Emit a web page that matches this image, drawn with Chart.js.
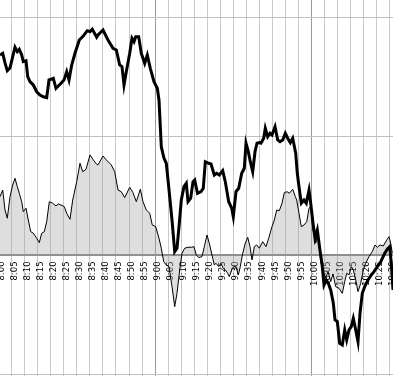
<!DOCTYPE html>
<html>
<head>
<meta charset="utf-8">
<script src="https://cdn.jsdelivr.net/npm/chart.js@4.4.1/dist/chart.umd.min.js"></script>
<style>
  html, body { margin: 0; padding: 0; background: #fff; }
  #wrap { width: 393px; height: 376px; }
</style>
</head>
<body>
<div id="wrap"><canvas id="chart1"></canvas></div>
<script>
// minutes after 8:00 and values (grid step = 100)
const priceMinutes = [
  0.5, 1.54, 2.42, 3.3, 4.34, 5.37, 6.25, 7.14, 7.9, 8.83,
  9.44, 10.48, 11.13, 12.01, 13.28, 14.58, 15.85, 17.11, 18.42, 19.3,
  20.34, 20.95, 21.99, 22.87, 23.91, 25.06, 26.09, 26.98, 28.01, 29.28,
  30.93, 32.46, 34.0, 35.03, 35.92, 37.6, 38.11, 40.03, 41.94, 43.86,
  45.13, 46.43, 47.31, 48.08, 48.96, 50.27, 51.15, 51.92, 52.57, 53.72,
  54.72, 56.02, 57.02, 58.17, 59.59, 60.86, 61.51, 62.39, 63.43, 64.31,
  65.23, 66.5, 67.54, 68.42, 69.19, 70.07, 71.1, 71.99, 72.64, 73.68,
  74.56, 75.21, 76.29, 77.63, 78.51, 79.28, 80.58, 81.47, 82.73, 83.65,
  84.65, 85.95, 86.95, 88.26, 89.41, 90.02, 91.06, 92.09, 93.25, 94.24,
  94.9, 95.78, 96.55, 97.47, 98.35, 99.12, 100.0, 100.65, 101.69, 102.3,
  103.22, 104.11, 104.87, 106.03, 107.06, 107.94, 108.98, 109.98, 110.9, 111.9,
  112.82, 113.97, 114.58, 115.23, 116.12, 117.15, 118.03, 119.07, 119.72, 120.61,
  121.37, 122.26, 123.18, 124.17, 124.83, 125.71, 126.48, 127.4, 128.4, 129.05,
  129.93, 130.85, 131.85, 132.77, 133.54, 134.42, 135.3, 136.07, 136.99, 137.87,
  138.64, 139.52, 140.44, 141.71, 142.97, 144.01, 145.28, 146.32, 147.2, 148.12,
  149.12, 150.04, 150.65, 151.3
];
const priceValues = [
  168.5, 169.9, 161.8, 155.3, 157.6, 167.1, 175.0, 171.3, 173.3, 168.5,
  162.9, 163.7, 150.3, 146.1, 143.3, 137.6, 134.9, 133.4, 132.6, 147.5,
  148.3, 148.9, 140.5, 142.4, 144.7, 147.5, 154.5, 147.5, 160.1, 169.9,
  181.1, 184.5, 188.9, 188.1, 190.1, 183.4, 185.3, 189.5, 181.1, 174.1,
  172.7, 160.1, 158.7, 143.3, 154.5, 169.9, 182.5, 179.7, 183.9, 183.9,
  169.9, 161.5, 168.5, 157.3, 146.1, 140.5, 130.7, 91.4, 81.7, 77.5,
  57.8, 29.8, 3.2, 6.1, 24.2, 46.6, 57.8, 60.7, 45.2, 48.1,
  62.0, 63.4, 52.2, 53.6, 56.5, 78.8, 77.5, 76.9, 67.6, 69.1,
  67.6, 71.3, 62.0, 45.2, 39.7, 32.6, 53.6, 56.5, 69.1, 73.3,
  94.3, 87.2, 78.8, 70.4, 87.2, 94.3, 94.8, 94.3, 98.5, 106.9,
  99.8, 102.7, 101.3, 108.2, 97.1, 95.6, 97.1, 102.7, 98.5, 94.8,
  98.5, 85.9, 69.1, 57.8, 43.9, 46.6, 43.9, 55.0, 43.9, 27.1,
  14.5, 21.4, 6.1, -9.4, -24.8, -20.6, -23.4, -29.0, -40.2, -54.2,
  -55.6, -73.8, -75.2, -62.6, -71.0, -62.6, -59.8, -52.8, -62.6, -72.4,
  -48.6, -31.8, -26.2, -20.6, -16.4, -13.6, -9.4, -6.6, -2.4, 1.8,
  5.2, 7.4, -6.6, -29.0
];

const flowMinutes = [
  0.5, 1.54, 2.42, 3.3, 4.34, 5.37, 6.25, 7.14, 7.9, 8.83,
  9.44, 10.48, 11.36, 12.28, 13.28, 14.58, 15.58, 16.5, 17.5, 18.42,
  19.42, 20.72, 21.99, 22.87, 23.91, 25.17, 26.09, 27.36, 28.4, 29.93,
  31.2, 32.23, 33.5, 35.03, 36.3, 37.6, 38.11, 40.03, 41.29, 43.21,
  44.51, 45.78, 47.04, 48.35, 50.27, 51.53, 52.8, 54.34, 55.37, 56.64,
  57.94, 58.94, 60.25, 61.51, 62.39, 63.32, 64.31, 65.35, 66.5, 67.54,
  68.42, 69.45, 70.34, 71.37, 72.64, 73.91, 74.94, 75.83, 76.75, 78.01,
  78.9, 79.93, 80.81, 81.85, 82.73, 83.38, 84.42, 85.3, 86.18, 86.95,
  87.87, 88.49, 89.41, 90.18, 91.06, 91.94, 92.71, 93.63, 94.63, 95.55,
  96.43, 97.2, 98.08, 99.0, 100.0, 101.3, 102.57, 103.61, 104.87, 105.76,
  106.68, 107.68, 108.71, 109.59, 110.63, 111.51, 112.82, 113.82, 114.35, 115.23,
  116.12, 117.15, 118.19, 119.07, 119.72, 120.61, 121.64, 122.53, 123.56, 124.44,
  125.48, 126.36, 127.4, 128.28, 129.32, 130.58, 131.85, 132.77, 133.54, 134.42,
  135.3, 136.07, 136.99, 137.87, 138.91, 139.9, 140.83, 142.09, 143.36, 144.4,
  145.28, 146.32, 147.58, 148.89, 149.77, 150.42, 151.04
];
const flowValues = [
  49.4, 55.0, 38.2, 31.3, 49.4, 59.2, 64.9, 57.8, 52.3, 45.2,
  36.8, 39.7, 29.8, 20.0, 18.7, 14.5, 10.8, 18.7, 20.0, 28.4,
  45.2, 43.9, 41.6, 43.3, 42.4, 41.0, 35.5, 30.4, 46.6, 62.0,
  77.5, 70.4, 72.4, 84.5, 80.3, 76.6, 76.1, 83.6, 80.3, 76.1,
  70.4, 55.0, 53.6, 48.6, 57.3, 52.8, 45.2, 55.6, 45.2, 38.2,
  35.5, 25.6, 24.2, 14.5, 6.1, -5.2, -8.0, -9.4, -26.2, -43.0,
  -31.8, -12.2, 1.8, 6.1, 6.9, 6.9, 7.4, 0.4, -1.8, -1.0,
  7.4, 17.2, 10.3, 0.4, -8.0, -6.6, -9.4, -6.6, -10.8, -12.2,
  -15.0, -17.8, -12.2, -9.4, -9.4, -16.4, -9.4, 1.8, 10.3, 15.3,
  7.4, -3.8, 7.4, 8.8, 6.1, 11.6, 7.4, 14.5, 24.2, 29.8,
  38.2, 37.6, 43.9, 52.8, 53.6, 52.3, 55.6, 49.4, 46.6, 35.5,
  24.2, 25.6, 28.4, 39.7, 41.0, 21.4, 10.3, 18.7, -5.2, -12.2,
  -19.2, -13.6, -22.0, -15.5, -26.2, -27.6, -31.8, -22.0, -15.0, -16.4,
  -9.4, -12.2, -20.6, -30.4, -23.4, -12.2, -6.6, -1.0, 3.2, 8.8,
  6.9, 8.8, 8.0, 13.0, 15.8, 10.3, 1.8
];

const tickLabels = [
  '8:00', '8:05', '8:10', '8:15', '8:20', '8:25', '8:30', '8:35', '8:40', '8:45',
  '8:50', '8:55', '9:00', '9:05', '9:10', '9:15', '9:20', '9:25', '9:30', '9:35',
  '9:40', '9:45', '9:50', '9:55', '10:00', '10:05', '10:10', '10:15', '10:20', '10:25',
  '10:30'
];

const pricePts = priceMinutes.map((m, i) => ({ x: m, y: priceValues[i] }));
const flowPts = flowMinutes.map((m, i) => ({ x: m, y: flowValues[i] }));

const ctx = document.getElementById('chart1').getContext('2d');
const myChart = new Chart(ctx, {
  type: 'line',
  data: {
    datasets: [
      {
        data: pricePts,
        borderColor: '#000',
        borderWidth: 3,
        pointRadius: 0,
        fill: false,
        tension: 0,
        order: 0
      },
      {
        data: flowPts,
        borderColor: '#000',
        borderWidth: 1,
        backgroundColor: 'rgba(160,160,160,0.35)',
        pointRadius: 0,
        fill: 'origin',
        tension: 0,
        order: 1
      }
    ]
  },
  options: {
    responsive: true,
    maintainAspectRatio: false,
    animation: false,
    layout: { padding: 0 },
    plugins: { legend: { display: false }, tooltip: { enabled: false } },
    scales: {
      x: {
        type: 'linear',
        position: { y: 0 },
        min: 0.5,
        max: 151.3,
        afterBuildTicks: (scale) => {
          scale.ticks = tickLabels.map((t, i) => ({ value: i * 5 }));
        },
        afterFit: (scale) => {
          // labels may hang over the edges, like the original
          scale.paddingLeft = 0;
          scale.paddingRight = 0;
        },
        border: { display: false },
        grid: {
          drawTicks: false,
          color: (c) => (c.tick && c.tick.value % 60 === 0 ? '#9a9a9a' : '#c8c8c8'),
          lineWidth: 1
        },
        ticks: {
          autoSkip: false,
          minRotation: 90,
          maxRotation: 90,
          padding: 6,
          labelOffset: 3,
          color: '#000',
          font: { family: 'DejaVu Sans', size: 8.5 },
          callback: (v, i) => tickLabels[i]
        }
      },
      y: {
        min: -101.3,
        max: 214.7,
        afterBuildTicks: (scale) => {
          scale.ticks = [-100, 0, 100, 200].map((v) => ({ value: v }));
        },
        afterFit: (scale) => {
          scale.width = 0;
        },
        border: { display: false },
        grid: {
          drawTicks: false,
          color: (c) => (c.tick && c.tick.value === 0 ? '#8c8c8c' : '#c0c0c0'),
          lineWidth: (c) => (c.tick && c.tick.value === 0 ? 2 : 1)
        },
        ticks: { display: false }
      }
    }
  }
});
</script>
</body>
</html>
